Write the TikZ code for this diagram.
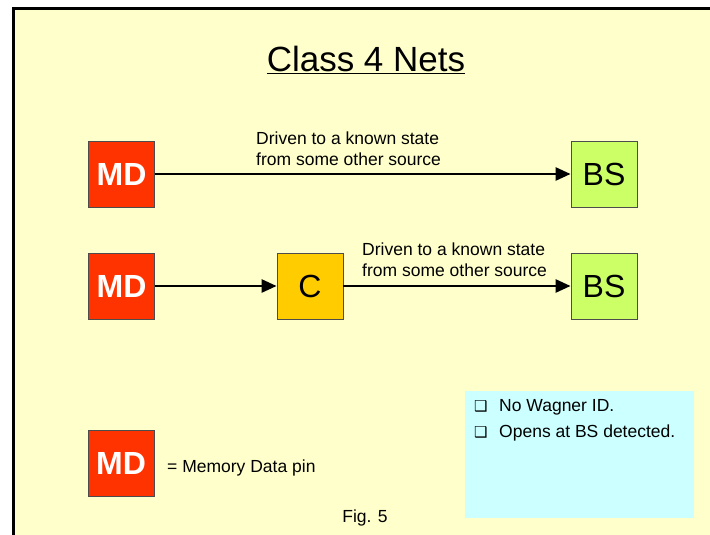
\documentclass[tikz,border=0pt]{standalone}
\usepackage{fontspec}
\setmainfont{Liberation Sans}
\newfontfamily\symfont{DejaVu Sans}
\usetikzlibrary{arrows.meta,positioning}
\definecolor{slidebg}{HTML}{FFFFCC}
\definecolor{mdred}{HTML}{FF3300}
\definecolor{bsgreen}{HTML}{CCFF66}
\definecolor{cyellow}{HTML}{FFCC00}
\definecolor{notecyan}{HTML}{CCFFFF}

\begin{document}
\begin{tikzpicture}[x=1pt,y=-1pt,>={Triangle[length=15pt,width=13pt]},font=\fontsize{17.5}{21}\selectfont]
\tikzset{
  pinbox/.style={draw=black!70,line width=0.8pt,minimum size=66pt,inner sep=0pt,font=\fontsize{32}{32}\selectfont},
  mdbox/.style={pinbox,fill=mdred,text=white,font=\fontsize{32}{32}\selectfont\bfseries},
  net/.style={->,line width=2.6pt},
  netlbl/.style={anchor=north west,align=left,inner sep=0pt},
}
\useasboundingbox (0,0) rectangle (710,535);
\fill[slidebg] (13,9) rectangle (710,535);
\draw[line width=3pt] (13,535) -- (13,9) -- (710,9);

\node (title) at (366,60) {\fontsize{35}{35}\selectfont\underline{Class 4 Nets}};

% first net: MD straight to BS
\node[mdbox] (md1) at (121.5,174) {MD};
\node[pinbox,fill=bsgreen] (bs1) at (604,174) {BS};
\draw[net] (md1) -- (bs1);
\node[netlbl] (lbl1) at (256,132) {Driven to a known state\\from some other source};

% second net: MD through C to BS
\node[mdbox] (md2) at (121.5,286) {MD};
\node[pinbox,fill=cyellow] (c) at (310,286) {C};
\node[pinbox,fill=bsgreen] (bs2) at (604,286) {BS};
\draw[net] (md2) -- (c);
\draw[net] (c) -- (bs2);
\node[netlbl] (lbl2) at (362,243) {Driven to a known state\\from some other source};

% legend
\node[mdbox] (md3) at (121,463) {MD};
\node[anchor=base west,inner sep=0pt] (key) at (167,472) {= Memory Data pin};

% notes
\node[fill=notecyan,anchor=north west,minimum width=229pt,minimum height=127pt,inner sep=0pt] (note) at (465,391) {};
\node[netlbl,font=\fontsize{17.5}{26}\selectfont] (items) at ([shift={(9,8)}]note.north west)
  {\makebox[25pt][l]{\symfont\fontsize{15}{15}\selectfont ❑}No Wagner ID.\\
   \makebox[25pt][l]{\symfont\fontsize{15}{15}\selectfont ❑}Opens at BS detected.};

\node (fig) at (365,518) {Fig. 5};
\end{tikzpicture}
\end{document}
